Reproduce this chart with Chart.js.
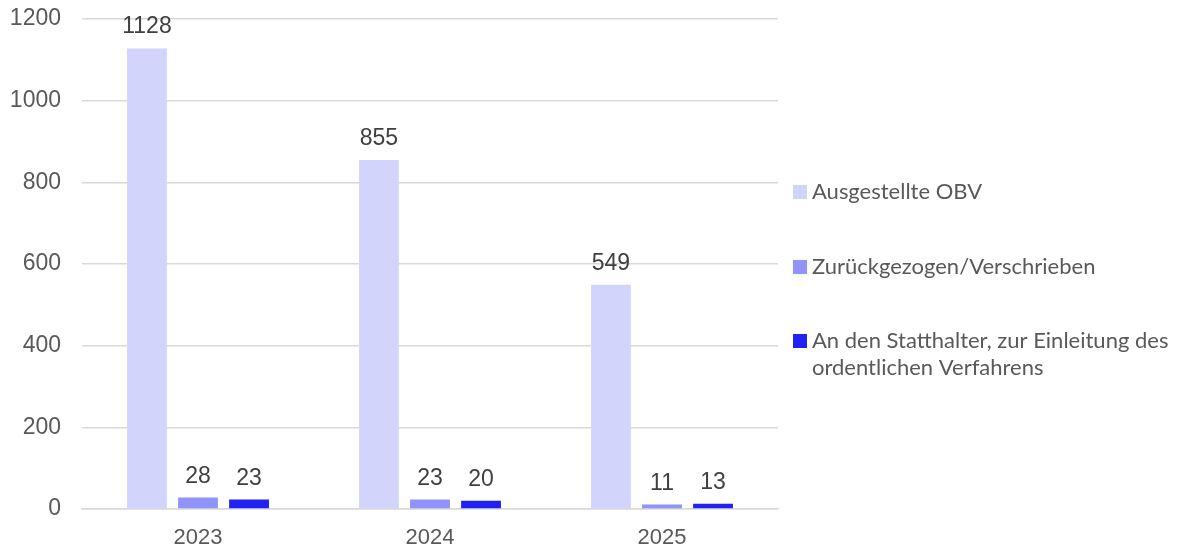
<!DOCTYPE html>
<html>
<head>
<meta charset="utf-8">
<script src="https://cdn.jsdelivr.net/npm/chart.js@4.4.1/dist/chart.umd.min.js"></script>
<style>
  html, body { margin: 0; padding: 0; background: #fff; }
  #wrap { width: 1184px; height: 548px; }
</style>
</head>
<body>
<div id="wrap"><canvas id="bar-chart"></canvas></div>
<script>
// data
var years = ["2023", "2024", "2025"];
var seriesNames = [
    ["Ausgestellte OBV"],
    ["Zurückgezogen/Verschrieben"],
    ["An den Statthalter, zur Einleitung des", "ordentlichen Verfahrens"]
];
var ausgestellt = [1128, 855, 549];
var zurueckgezogen = [28, 23, 11];
var statthalter = [23, 20, 13];
var yTicks = [0, 200, 400, 600, 800, 1000, 1200];

var colors = ["#d2d4fb", "#9093fa", "#2121f4"];

// value labels above the bars
var valueLabels = {
    id: 'valueLabels',
    afterDatasetsDraw: function(chart) {
        var ctx = chart.ctx;
        ctx.save();
        ctx.font = '23px "Liberation Sans", Arial, sans-serif';
        ctx.fillStyle = '#404040';
        ctx.textAlign = 'center';
        ctx.textBaseline = 'alphabetic';
        chart.data.datasets.forEach(function(ds, i) {
            chart.getDatasetMeta(i).data.forEach(function(bar, j) {
                ctx.fillText(ds.data[j], bar.x, bar.y - 15);
            });
        });
        ctx.restore();
    }
};

// legend on the right, with wrapped label
var sideLegend = {
    id: 'sideLegend',
    afterDraw: function(chart) {
        var ctx = chart.ctx;
        var rowsY = [192, 267, 341];
        ctx.save();
        ctx.font = '22px Lato, "Noto Sans", sans-serif';
        ctx.textBaseline = 'middle';
        ctx.textAlign = 'left';
        chart.data.datasets.forEach(function(ds, i) {
            var y = rowsY[i];
            ctx.fillStyle = ds.backgroundColor;
            ctx.fillRect(793, y - 7, 14, 14);
            ctx.fillStyle = '#595959';
            ds.label.forEach(function(line, k) {
                ctx.fillText(line, 812, y + k * 27);
            });
        });
        ctx.restore();
    }
};

new Chart(document.getElementById("bar-chart"), {
    type: 'bar',
    data: {
        labels: years,
        datasets: [
            { label: seriesNames[0], backgroundColor: colors[0], data: ausgestellt },
            { label: seriesNames[1], backgroundColor: colors[1], data: zurueckgezogen },
            { label: seriesNames[2], backgroundColor: colors[2], data: statthalter }
        ]
    },
    options: {
        responsive: true,
        maintainAspectRatio: false,
        animation: false,
        layout: { padding: { left: 0, right: 406, top: 19, bottom: 0 } },
        datasets: {
            bar: { categoryPercentage: 0.66, barPercentage: 0.78 }
        },
        plugins: {
            legend: { display: false },
            tooltip: { enabled: false }
        },
        scales: {
            x: {
                grid: { display: false, drawTicks: false },
                border: { display: true, color: '#d9d9d9', width: 1.5 },
                ticks: {
                    color: '#595959',
                    padding: 16,
                    font: { family: '"Liberation Sans", Arial, sans-serif', size: 22 }
                },
                afterFit: function(s) { s.height = 39; }
            },
            y: {
                min: 0,
                max: 1200,
                afterBuildTicks: function(s) {
                    s.ticks = yTicks.map(function(v) { return { value: v }; });
                },
                grid: { color: '#d9d9d9', lineWidth: 1.5, drawTicks: false },
                border: { display: false },
                ticks: {
                    color: '#595959',
                    padding: 21,
                    callback: function(v) { return String(v); },
                    font: { family: '"Liberation Sans", Arial, sans-serif', size: 23 }
                },
                afterFit: function(s) {
                    s.width = 82;
                    s.paddingTop = 0;
                    s.paddingBottom = 0;
                }
            }
        }
    },
    plugins: [valueLabels, sideLegend]
});
</script>
</body>
</html>
